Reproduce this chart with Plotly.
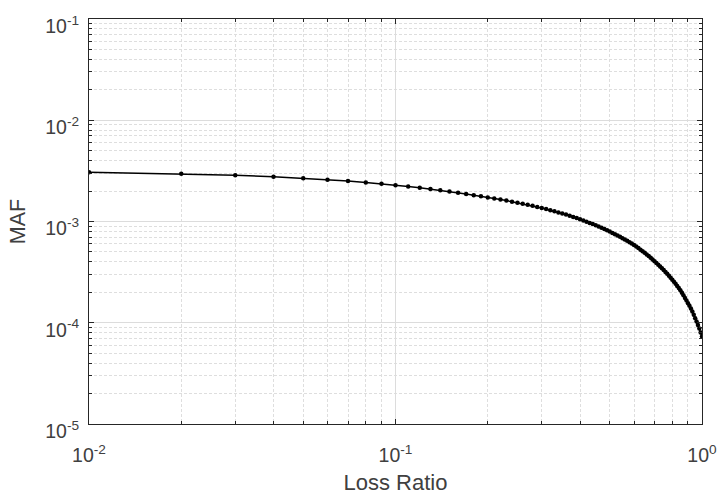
import plotly.graph_objects as go

loss_ratio = [round(0.01 * i, 2) for i in range(1, 101)]

maf = [
    3.06e-3, 2.96e-3, 2.86e-3, 2.77e-3, 2.68e-3, 2.59e-3, 2.51e-3, 2.43e-3, 2.36e-3, 2.28e-3,
    2.22e-3, 2.15e-3, 2.09e-3, 2.03e-3, 1.98e-3, 1.92e-3, 1.87e-3, 1.82e-3, 1.78e-3, 1.73e-3,
    1.69e-3, 1.65e-3, 1.61e-3, 1.57e-3, 1.53e-3, 1.50e-3, 1.46e-3, 1.43e-3, 1.39e-3, 1.36e-3,
    1.33e-3, 1.29e-3, 1.26e-3, 1.23e-3, 1.20e-3, 1.17e-3, 1.14e-3, 1.11e-3, 1.08e-3, 1.05e-3,
    1.023e-3, 9.96e-4, 9.69e-4, 9.43e-4, 9.17e-4, 8.91e-4, 8.66e-4, 8.42e-4, 8.18e-4, 7.95e-4,
    7.72e-4, 7.50e-4, 7.28e-4, 7.06e-4, 6.85e-4, 6.65e-4, 6.44e-4, 6.24e-4, 6.05e-4, 5.85e-4,
    5.66e-4, 5.46e-4, 5.27e-4, 5.09e-4, 4.91e-4, 4.73e-4, 4.56e-4, 4.39e-4, 4.22e-4, 4.06e-4,
    3.90e-4, 3.75e-4, 3.60e-4, 3.45e-4, 3.31e-4, 3.17e-4, 3.04e-4, 2.91e-4, 2.78e-4, 2.66e-4,
    2.54e-4, 2.43e-4, 2.31e-4, 2.20e-4, 2.09e-4, 1.98e-4, 1.87e-4, 1.76e-4, 1.66e-4, 1.56e-4,
    1.47e-4, 1.38e-4, 1.29e-4, 1.20e-4, 1.11e-4, 1.03e-4, 9.52e-5, 8.75e-5, 8.01e-5, 7.30e-5,
]

x_tickvals = [0.01, 0.1, 1]
x_ticktext = ["10<sup>-2</sup>", "10<sup>-1</sup>", "10<sup>0</sup>"]
y_tickvals = [1e-5, 1e-4, 1e-3, 1e-2, 1e-1]
y_ticktext = ["10<sup>-5</sup>", "10<sup>-4</sup>", "10<sup>-3</sup>", "10<sup>-2</sup>", "10<sup>-1</sup>"]

x_minor = [m * 10.0 ** e for e in (-2, -1) for m in range(2, 10)]
y_minor = [m * 10.0 ** e for e in (-5, -4, -3, -2) for m in range(2, 10)]

axis_color = "#262626"
text_color = "#404040"
font_family = "Liberation Sans, Arial, sans-serif"

fig = go.Figure()
fig.add_trace(go.Scatter(
    x=loss_ratio, y=maf, mode="lines+markers",
    line=dict(color="black", width=1.5),
    marker=dict(color="black", size=4.5, symbol="circle"),
    showlegend=False,
))

common = dict(
    showline=True, linecolor=axis_color, linewidth=1, mirror="ticks",
    ticks="inside", ticklen=5, tickcolor=axis_color, tickwidth=1,
    showgrid=True, gridcolor="#dcdcdc", gridwidth=1,
    zeroline=False, automargin=False, ticklabeloverflow="allow",
    tickfont=dict(family=font_family, size=19.5, color=text_color),
)

fig.update_xaxes(
    type="log", range=[-2, 0], tickmode="array",
    tickvals=x_tickvals, ticktext=x_ticktext, ticklabelstandoff=14,
    title=dict(text="Loss Ratio", font=dict(family=font_family, size=22, color=text_color), standoff=12),
    minor=dict(tickmode="array", tickvals=x_minor, ticks="inside", ticklen=3,
               tickcolor=axis_color, showgrid=True, gridcolor="#dedede", griddash="3px,2px", gridwidth=1),
    **common,
)
fig.update_yaxes(
    type="log", range=[-5, -1], tickmode="array",
    tickvals=y_tickvals, ticktext=y_ticktext, ticklabelstandoff=5,
    ticklabelshift=7,
    title=dict(text="MAF", font=dict(family=font_family, size=21.5, color=text_color), standoff=13),
    minor=dict(tickmode="array", tickvals=y_minor, ticks="inside", ticklen=3,
               tickcolor=axis_color, showgrid=True, gridcolor="#dedede", griddash="3px,2px", gridwidth=1),
    **common,
)

fig.update_layout(
    width=719, height=495,
    margin=dict(l=89, r=17, t=19, b=71),
    paper_bgcolor="white", plot_bgcolor="white",
    font=dict(family=font_family),
)

fig.write_html(
    "out.html",
    config={"displayModeBar": False},
    post_script="document.body.style.margin='0px';document.body.style.overflow='hidden';",
)
